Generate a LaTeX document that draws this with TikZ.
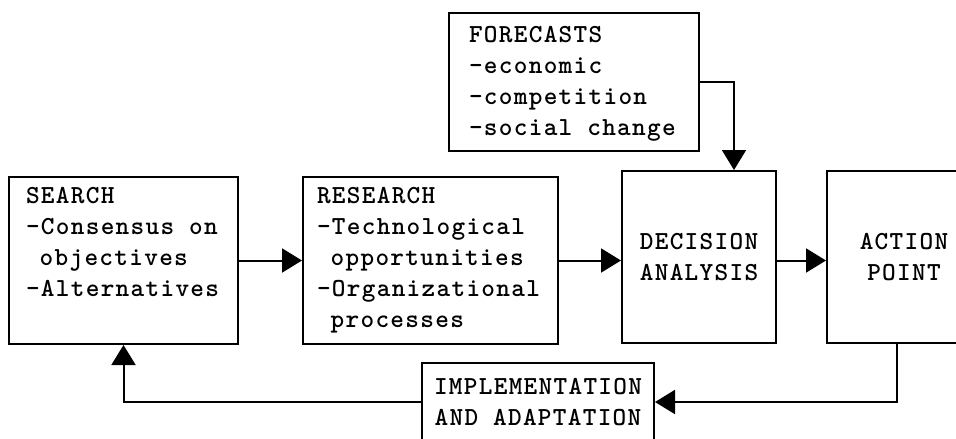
\documentclass[tikz,border=0pt]{standalone}
\usepackage{fontspec}
\setmonofont{lmmonolt10-bold}[Extension=.otf, LetterSpace=5]
\usetikzlibrary{arrows.meta}

\begin{document}
\begin{tikzpicture}[x=1pt, y=-1pt, line width=2pt,
    box/.style={draw, rectangle, inner sep=0pt},
    txt/.style={font=\ttfamily\fontsize{26}{31}\selectfont, inner sep=0pt},
    flow/.style={-{Triangle[length=20pt,width=24pt]}}]
  \useasboundingbox (0,0) rectangle (956,439);

  % boxes
  \node[box, minimum width=229pt, minimum height=167pt] (search) at (123.5,260.5) {};
  \node[box, minimum width=255pt, minimum height=167pt] (research) at (430.5,260.5) {};
  \node[box, minimum width=250pt, minimum height=138pt] (forecasts) at (574,82) {};
  \node[box, txt, align=center, minimum width=154pt, minimum height=172pt] (decision) at (699,257) {DECISION\\ANALYSIS};
  \node[box, txt, align=center, minimum width=154pt, minimum height=172pt] (action) at (904,257) {ACTION\\POINT};
  \node[box, txt, align=center, minimum width=232pt, minimum height=78pt] (impl) at (538,402) {IMPLEMENTATION\\AND ADAPTATION};

  % lists in the upper left of the boxes
  \node[txt, align=left, anchor=north west] (searchtxt) at (25,186)
    {SEARCH\\-Consensus on\\\phantom{-}objectives\\-Alternatives};
  \node[txt, align=left, anchor=north west] (researchtxt) at (316,186)
    {RESEARCH\\-Technological\\\phantom{-}opportunities\\-Organizational\\\phantom{-}processes};
  \node[txt, align=left, anchor=north west] (forecaststxt) at (468,25)
    {FORECASTS\\-economic\\-competition\\-social change};

  % connectors
  \draw[flow] (search) -- (research);
  \draw[flow] (research.east) -- (research.east -| decision.west);
  \draw[flow] (research.east -| decision.east) -- (research.east -| action.west);
  \draw[flow] (forecasts.east) -| ([xshift=35pt]decision.north);
  \draw[flow] ([xshift=-7pt]action.south) |- (impl.east);
  \draw[flow] (impl.west) -| (search.south);
\end{tikzpicture}
\end{document}
